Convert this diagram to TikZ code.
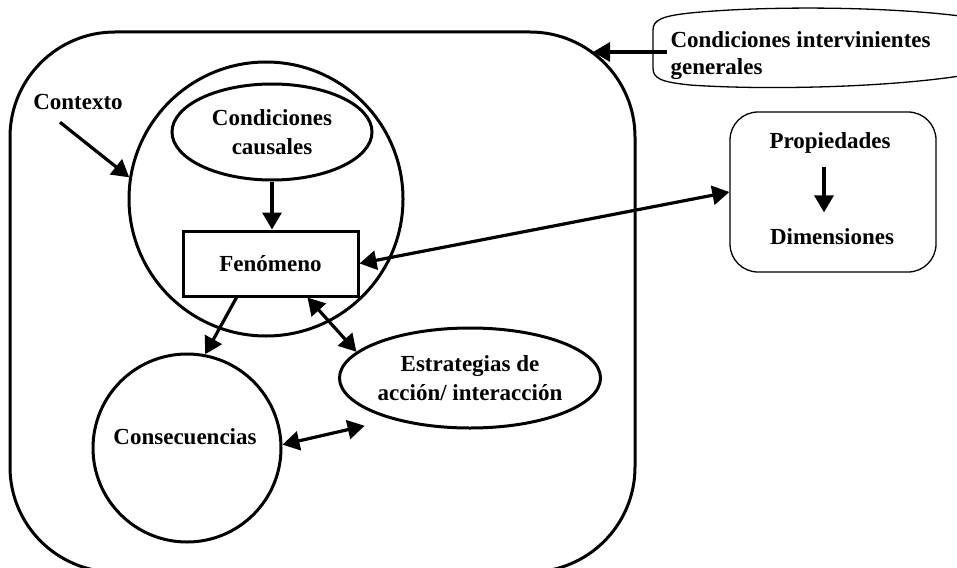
\documentclass[tikz,border=0pt]{standalone}
\usepackage{fontspec}
\setmainfont{Liberation Serif}
\usetikzlibrary{arrows.meta,shapes.geometric}
\begin{document}
\begin{tikzpicture}[x=1pt,y=-1pt,
	font=\fontsize{23}{29}\selectfont\bfseries,
	arr/.style={line width=3.2pt,-{Triangle[length=17pt,width=19pt]}},
	dbl/.style={line width=3.2pt,{Triangle[length=17pt,width=19pt]}-{Triangle[length=17pt,width=19pt]}}]
				\useasboundingbox (0,0) rectangle (957,567);
				\draw[line width=3pt,rounded corners=105pt](10,32) rectangle (635,572);
				\node[circle,draw,line width=3pt,minimum size=274pt,inner sep=0](context) at (266,199){};
				\node(ctxlabel) at (78,102){Contexto};
				\node[ellipse,draw,line width=3pt,minimum width=200pt,minimum height=96pt,inner sep=0,align=center](causal) at (272,132){Condiciones\\causales};
				\node[draw,line width=3pt,minimum width=175pt,minimum height=65pt](fen) at (270.5,263.5){Fenómeno};
				\node[circle,draw,line width=3pt,minimum size=188pt,inner sep=0](cons) at (187,448){};
				\node(conslabel) at (185,437){Consecuencias};
				\node[ellipse,draw,line width=3pt,minimum width=256pt,minimum height=100pt,inner sep=0,align=center](estr) at (470,378){Estrategias de\\acción/ interacción};
				\node[draw,line width=1.3pt,rounded corners=28pt,minimum width=206pt,minimum height=160pt](propbox) at (833,192){};
				\node(prop) at (830,143){Propiedades};
				\node(dim) at (832,237){Dimensiones};
				\node[align=left,anchor=west,font=\fontsize{23}{27}\selectfont\bfseries](interv) at (667,56){Condiciones intervinientes\\generales};
				\draw[line width=1.3pt](960,16) .. controls (880,6) and (760,6) .. (690,13) .. controls (662,16) and (653,20) .. (653,30) -- (653,68) .. controls (653,78) and (660,82) .. (690,85) .. controls (760,90) and (880,88) .. (960,76);
				\coordinate(ctip) at (593,52);
				\draw[arr](interv.west |- ctip) -- (ctip);
				\draw[arr]([shift={(-18,9)}]ctxlabel.south) -- (context.171);
				\draw[arr](causal.south) -- (causal.south |- fen.north);
				\draw[arr]([xshift=-34pt]fen.south) -- (cons.79);
				\draw[dbl]([xshift=37pt]fen.south) -- (estr.167);
				\draw[dbl](propbox.west) -- (fen.east);
				\draw[dbl,shorten >=28pt](cons.2) -- (estr.208);
				\draw[arr,shorten <=10pt,shorten >=13pt]([xshift=-6pt]prop.south) -- ([xshift=-6pt]prop.south |- dim.north);
\end{tikzpicture}
\end{document}
